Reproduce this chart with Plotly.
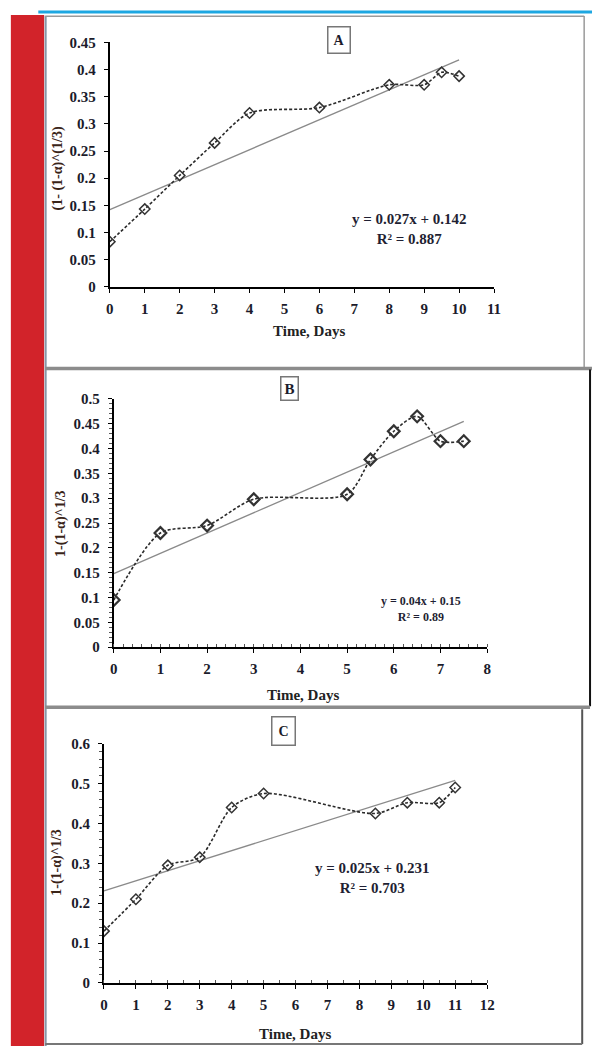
import plotly.graph_objects as go

W, H = 600, 1054

# ---------------- data ----------------
days_A = [0, 1, 2, 3, 4, 6, 8, 9, 9.5, 10]
conv_A = [0.083, 0.143, 0.205, 0.265, 0.320, 0.330, 0.372, 0.372, 0.395, 0.388]
trend_A_x = [0, 10]
trend_A_y = [0.142, 0.418]

days_B = [0, 1, 2, 3, 5, 5.5, 6, 6.5, 7, 7.5]
conv_B = [0.095, 0.230, 0.245, 0.298, 0.308, 0.378, 0.435, 0.465, 0.415, 0.415]
trend_B_x = [0, 7.5]
trend_B_y = [0.148, 0.455]

days_C = [0, 1, 2, 3, 4, 5, 8.5, 9.5, 10.5, 11]
conv_C = [0.130, 0.210, 0.295, 0.315, 0.440, 0.475, 0.425, 0.452, 0.452, 0.490]
trend_C_x = [0, 11]
trend_C_y = [0.231, 0.508]

panel_labels = ["A", "B", "C"]
y_titles = ["(1- (1-α)^(1/3)", "1-(1-α)^1/3", "1-(1-α)^1/3"]
x_title = "Time, Days"
equations = ["y = 0.027x + 0.142<br>R² = 0.887",
             "y = 0.04x + 0.15<br>R² = 0.89",
             "y = 0.025x + 0.231<br>R² = 0.703"]

# ---------------- helpers ----------------
def px(x):
    return x / W

def py(y):
    return 1 - y / H

FONT = "Liberation Serif, Times New Roman, serif"
TXT = "#1b1b2b"

fig = go.Figure()

# axis pixel frames: (x_left, x_right, y_top, y_bottom)
frames = [(108, 500, 35, 283), (112, 493, 397, 649), (102, 493, 747, 990)]
xranges = [[0, 11], [0, 8], [0, 12]]
yranges = [[0, 0.45], [0, 0.5], [0, 0.6]]
ydt = [0.05, 0.05, 0.1]
yminor = [None, 0.01, 0.02]
xminor = [None, 0.2, 0.5]
data_sets = [(days_A, conv_A, trend_A_x, trend_A_y),
             (days_B, conv_B, trend_B_x, trend_B_y),
             (days_C, conv_C, trend_C_x, trend_C_y)]

for i in range(3):
    xa = "x" if i == 0 else f"x{i+1}"
    ya = "y" if i == 0 else f"y{i+1}"
    xd, yd, tx, ty = data_sets[i]
    fig.add_trace(go.Scatter(x=tx, y=ty, mode="lines",
                             line=dict(color="#8a8a8a", width=1.3),
                             xaxis=xa, yaxis=ya, showlegend=False, hoverinfo="skip"))
    fig.add_trace(go.Scatter(x=xd, y=yd, mode="lines+markers",
                             line=dict(color="#2a2a2a", width=1.6, dash="3px,2px", shape="spline", smoothing=0.8),
                             marker=dict(symbol="diamond-open", size=8 if i != 1 else 9,
                                         color="#333333", line=dict(width=1.5 if i != 1 else 2.2, color="#333333")),
                             xaxis=xa, yaxis=ya, showlegend=False))
    xl, xr, yt, yb = frames[i]
    xkey = "xaxis" if i == 0 else f"xaxis{i+1}"
    ykey = "yaxis" if i == 0 else f"yaxis{i+1}"
    tfont = dict(family=FONT, size=15, color=TXT, weight="bold")
    xaxis = dict(domain=[px(xl), px(xr)], range=xranges[i], dtick=1, tick0=0,
                 showgrid=False, zeroline=False, showline=True, linecolor="black", linewidth=2,
                 ticks="outside", ticklen=4, tickcolor="black", tickwidth=1,
                 ticklabelstandoff=3,
                 tickfont=tfont, anchor=ya, fixedrange=True)
    yaxis = dict(domain=[py(yb), py(yt)], range=yranges[i], dtick=ydt[i], tick0=0,
                 showgrid=False, zeroline=False, showline=True, linecolor="black", linewidth=2,
                 ticks="outside", ticklen=4, tickcolor="black", tickwidth=1,
                 ticklabelstandoff=5,
                 tickfont=tfont, anchor=xa, fixedrange=True)
    if xminor[i]:
        xaxis["minor"] = dict(dtick=xminor[i], ticks="inside", ticklen=3, tickcolor="#555", tickwidth=1)
    if yminor[i]:
        yaxis["minor"] = dict(dtick=yminor[i], ticks="outside", ticklen=3, tickcolor="#555", tickwidth=1)
    fig.layout[xkey] = xaxis
    fig.layout[ykey] = yaxis

# ---------------- annotations ----------------
ann = []
label_pos = [(342, 33, 14, 5), (291, 386, 15, 3), (285, 734, 14, 6)]
for lab, (lx, ly, fs, pad) in zip(panel_labels, label_pos):
    ann.append(dict(x=px(lx), y=py(ly), xref="paper", yref="paper", text=f"<b>{lab}</b>",
                    xanchor="center", yanchor="middle",
                    showarrow=False, font=dict(family=FONT, size=fs, color=TXT),
                    bordercolor="#777", borderwidth=1.5, borderpad=pad, bgcolor="white"))

ytitle_pos = [(55, 163), (58, 523), (54, 867)]
for t, (tx, ty) in zip(y_titles, ytitle_pos):
    ann.append(dict(x=px(tx), y=py(ty), xref="paper", yref="paper", text=f"<b>{t}</b>",
                    xanchor="center", yanchor="middle",
                    textangle=-90, showarrow=False, font=dict(family=FONT, size=14, color="#3a2418")))

xtitle_pos = [(311, 328), (305, 698), (297, 1042)]
for (tx, ty) in xtitle_pos:
    ann.append(dict(x=px(tx), y=py(ty), xref="paper", yref="paper", text=f"<b>{x_title}</b>",
                    xanchor="center", yanchor="middle",
                    showarrow=False, font=dict(family=FONT, size=15, color="#222")))

eq_pos = [(414, 224, 15), (426, 610, 12), (376, 883, 15)]
for t, (tx, ty, fs) in zip(equations, eq_pos):
    ann.append(dict(x=px(tx), y=py(ty), xref="paper", yref="paper", text=f"<b>{t}</b>",
                    xanchor="center", yanchor="middle",
                    showarrow=False, align="center", font=dict(family=FONT, size=fs, color="#1f1f33")))

# ---------------- frame shapes ----------------
shapes = [
    dict(type="rect", xref="paper", yref="paper", x0=px(7), x1=px(41), y0=py(1054), y1=py(7),
         fillcolor="#d2232a", line=dict(width=0), layer="below"),
    dict(type="line", xref="paper", yref="paper", x0=px(35), x1=px(600), y0=py(4), y1=py(4),
         line=dict(color="#1ea7e1", width=3)),
    dict(type="line", xref="paper", yref="paper", x0=px(42.5), x1=px(42.5), y0=py(8), y1=py(1054),
         line=dict(color="#8497a8", width=2)),
    dict(type="line", xref="paper", yref="paper", x0=px(42), x1=px(592), y0=py(8.5), y1=py(8.5),
         line=dict(color="#9a9a9a", width=1.5)),
    dict(type="line", xref="paper", yref="paper", x0=px(592), x1=px(592), y0=py(8), y1=py(366),
         line=dict(color="#9a9a9a", width=1.5)),
    dict(type="line", xref="paper", yref="paper", x0=px(42), x1=px(600), y0=py(366), y1=py(366),
         line=dict(color="#8c8c8c", width=3.5)),
    dict(type="line", xref="paper", yref="paper", x0=px(598), x1=px(598), y0=py(367), y1=py(709),
         line=dict(color="#111111", width=2)),
    dict(type="line", xref="paper", yref="paper", x0=px(42), x1=px(598), y0=py(710), y1=py(710),
         line=dict(color="#8c8c8c", width=3.5)),
    dict(type="line", xref="paper", yref="paper", x0=px(590), x1=px(590), y0=py(712), y1=py(1052),
         line=dict(color="#555555", width=2)),
    dict(type="line", xref="paper", yref="paper", x0=px(42), x1=px(590), y0=py(1052), y1=py(1052),
         line=dict(color="#777777", width=2)),
]

fig.update_layout(width=W, height=H, margin=dict(l=0, r=0, t=0, b=0),
                  paper_bgcolor="white", plot_bgcolor="white",
                  annotations=ann, shapes=shapes, showlegend=False)

fig.write_html("out.html", config={"displayModeBar": False})
